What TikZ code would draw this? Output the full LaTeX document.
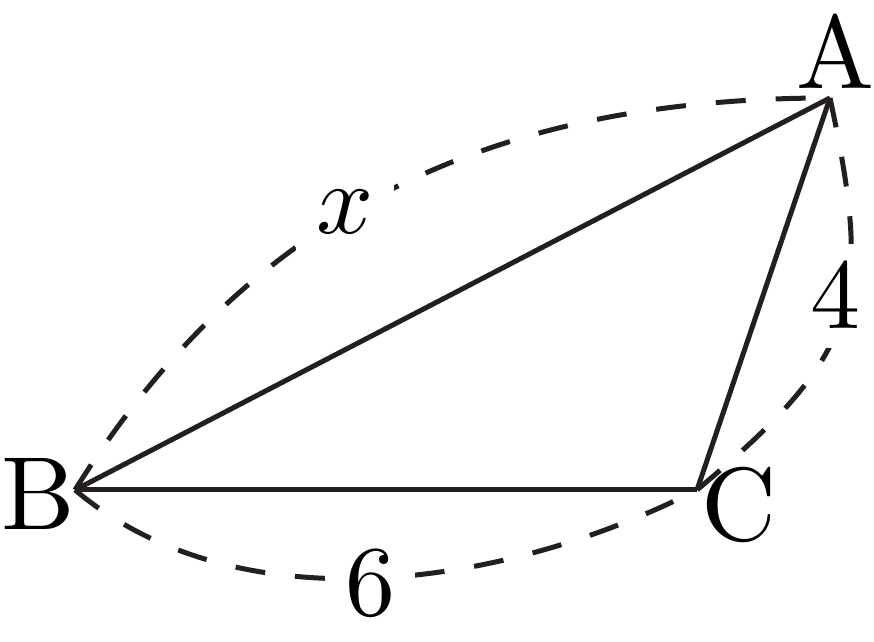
\documentclass[tikz,border=0pt]{standalone}
\definecolor{ink}{RGB}{35,31,32}
\begin{document}
\begin{tikzpicture}[x=0.1pt,y=-0.1pt,
  edge/.style={draw=ink,line width=0.5pt,line cap=butt,line join=miter},
  arcline/.style={draw=ink,line width=0.5pt,dashed},
  lab/.style={fill=white,inner sep=2pt,text=black,font=\fontsize{10}{12}\selectfont},
  vert/.style={inner sep=0pt,text=black,font=\fontsize{10.4}{13}\selectfont}]
\useasboundingbox (0,0) rectangle (874,642);
\coordinate (A) at (830,98);
\coordinate (B) at (75,490);
\coordinate (C) at (697,490);
% dashed measure curves
\draw[arcline] (B) .. controls (251,208) and (497,98) .. (A);
\draw[arcline] (B) .. controls (239,628) and (506,587) .. (C);
\draw[arcline] (A) .. controls (874,304) and (859,354) .. (C);
% labels on curves
\node[lab] (lx) at (345,212) {$x$};
\node[lab] (l6) at (370,583) {$6$};
\node[lab] (l4) at (836,296) {$4$};
% triangle
\draw[edge] (B) -- (A);
\draw[edge] (B) -- (C);
\draw[edge] (C) -- (A);
% vertex labels
\node[vert] (nA) at (836,51) {A};
\node[vert] (nB) at (38,494) {B};
\node[vert] (nC) at (739,505) {C};
\end{tikzpicture}
\end{document}
